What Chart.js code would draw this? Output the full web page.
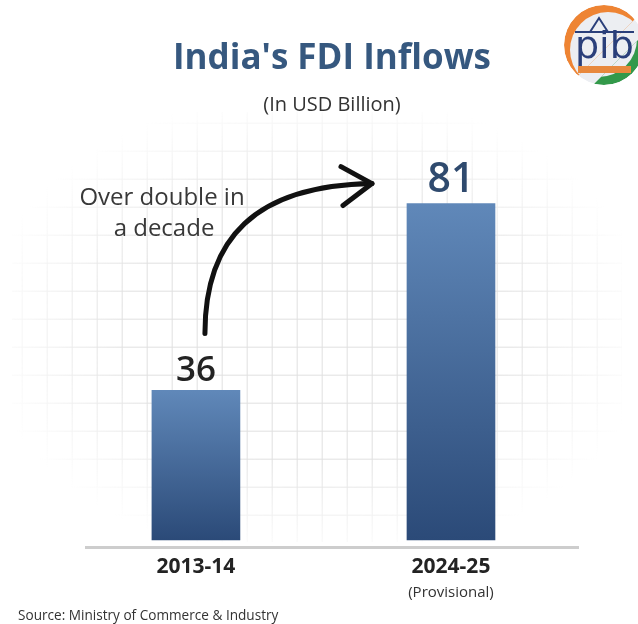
<!DOCTYPE html>
<html>
<head>
<meta charset="utf-8">
<script src="https://cdn.jsdelivr.net/npm/chart.js@4/dist/chart.umd.min.js"></script>
<style>
  html, body { margin: 0; padding: 0; background: #ffffff; }
  #wrap { position: relative; width: 638px; height: 624px; overflow: hidden; background: #ffffff; }
  /* faint graph-paper backdrop behind the bars, fading out at the edges */
  #paper {
    position: absolute; left: 12px; top: 112px; width: 610px; height: 430px;
    background-image:
      linear-gradient(to right, #e0e0e0 0, #e0e0e0 1.5px, transparent 1.5px),
      linear-gradient(to bottom, #e0e0e0 0, #e0e0e0 1.5px, transparent 1.5px);
    background-size: 25px 28px;
    background-position: 9.7px 10.7px;
    -webkit-mask-image: radial-gradient(ellipse at 50% 50%, #000 45%, rgba(0,0,0,0) 78%);
    mask-image: radial-gradient(ellipse at 50% 50%, #000 45%, rgba(0,0,0,0) 78%);
  }
  #chart { position: absolute; left: 0; top: 0; }
  #logo { position: absolute; left: 560px; top: 0; }
</style>
</head>
<body>
<div id="wrap">
  <div id="paper"></div>
  <canvas id="chart" width="638" height="624"></canvas>
  <svg id="logo" width="90" height="90" viewBox="0 0 90 90">
    <defs>
      <clipPath id="disc"><circle cx="44" cy="45" r="40"/></clipPath>
      <clipPath id="upperLeft"><polygon points="0,0 90,0 90,4 4,90 0,90"/></clipPath>
      <clipPath id="lowerRight"><polygon points="90,90 90,28 28,90"/></clipPath>
    </defs>
    <g clip-path="url(#disc)">
      <circle cx="44" cy="45" r="40" fill="#eceef2"/>
      <g clip-path="url(#upperLeft)">
        <circle cx="44" cy="45" r="40" fill="#ee8433"/>
        <circle cx="48" cy="50" r="38" fill="#eceef2"/>
      </g>
      <g clip-path="url(#lowerRight)">
        <circle cx="44" cy="45" r="40" fill="#33994a"/>
        <circle cx="39" cy="39" r="38" fill="#eceef2"/>
      </g>
    </g>
    <text x="15" y="58" font-family="DejaVu Sans, sans-serif" font-size="38" fill="#2a3f7a">pib</text>
    <line x1="15" y1="32" x2="74" y2="32" stroke="#2a3f7a" stroke-width="2"/>
    <path d="M 30 32 L 39 18 L 48 32" fill="none" stroke="#2a3f7a" stroke-width="2"/>
    <rect x="18" y="66" width="53" height="7" fill="#e8893d"/>
  </svg>
</div>
<script>
// FDI inflows, USD billion
const categories = ['2013-14', '2024-25'];
const fdiInflows = [36, 81];
const categoryNotes = ['', '(Provisional)'];
const valueColors = ['#232323', '#2f4a6e'];
const valueFontSizes = [35, 41];
const noteLines = ['Over double in', 'a decade'];
const sourceText = 'Source: Ministry of Commerce & Industry';

const FONT = '"Open Sans", Lato, sans-serif';

// value labels, arrow annotation, footnotes
const annotations = {
  id: 'annotations',
  afterDatasetsDraw(chart) {
    const ctx = chart.ctx;
    const bars = chart.getDatasetMeta(0).data;
    const xs = chart.scales.x;
    ctx.save();

    // values above the bars
    ctx.textAlign = 'center';
    ctx.textBaseline = 'alphabetic';
    bars.forEach((bar, i) => {
      ctx.font = `600 ${valueFontSizes[i]}px ${FONT}`;
      ctx.fillStyle = valueColors[i];
      ctx.fillText(String(fdiInflows[i]), bar.x, bar.y - (i === 0 ? 9 : 12));
    });

    // notes under the category labels
    ctx.font = `400 15px ${FONT}`;
    ctx.fillStyle = '#333333';
    ctx.textBaseline = 'middle';
    categoryNotes.forEach((note, i) => {
      if (note) ctx.fillText(note, xs.getPixelForValue(i), 593);
    });

    // "Over double in a decade"
    ctx.font = `400 24px ${FONT}`;
    ctx.fillStyle = '#383838';
    ctx.fillText(noteLines[0], 162, 198);
    ctx.fillText(noteLines[1], 164, 229);

    // curved arrow from the first value to the second
    const a = bars[0], b = bars[1];
    const sx = a.x + 9, sy = a.y - 57;
    const ex = b.x - 79, ey = b.y - 20;
    ctx.strokeStyle = '#111111';
    ctx.lineWidth = 5;
    ctx.lineCap = 'round';
    ctx.lineJoin = 'round';
    ctx.beginPath();
    ctx.moveTo(sx, sy);
    ctx.bezierCurveTo(sx, sy - 95, sx + 50, ey + 2, ex, ey);
    ctx.stroke();
    ctx.beginPath();
    ctx.moveTo(ex - 31, ey - 17);
    ctx.lineTo(ex, ey);
    ctx.lineTo(ex - 29, ey + 22);
    ctx.stroke();

    // source line
    ctx.textAlign = 'left';
    ctx.font = `400 13.6px ${FONT}`;
    ctx.fillStyle = '#333333';
    ctx.fillText(sourceText, 18, 616);

    ctx.restore();
  }
};

new Chart(document.getElementById('chart'), {
  type: 'bar',
  data: {
    datasets: [{
      data: fdiInflows.map((v, i) => ({ x: i, y: v })),
      barThickness: 88,
      borderWidth: 0,
      backgroundColor: (c) => {
        const chart = c.chart;
        if (!chart.chartArea || c.dataIndex === undefined) return '#3f6395';
        const ys = chart.scales.y;
        const top = ys.getPixelForValue(fdiInflows[c.dataIndex]);
        const bottom = ys.getPixelForValue(0);
        const g = chart.ctx.createLinearGradient(0, top, 0, bottom);
        g.addColorStop(0, '#6088b9');
        g.addColorStop(1, '#2b4a78');
        return g;
      }
    }]
  },
  options: {
    responsive: false,
    animation: false,
    devicePixelRatio: 1,
    layout: { padding: { left: 86, right: 60, top: 0, bottom: 0 } },
    plugins: {
      legend: { display: false },
      tooltip: { enabled: false },
      title: {
        display: true,
        text: "India's FDI Inflows",
        color: '#36587f',
        font: { family: FONT, size: 35, weight: '700' },
        padding: { top: 38, bottom: 0 }
      },
      subtitle: {
        display: true,
        text: '(In USD Billion)',
        color: '#333333',
        font: { family: FONT, size: 20, weight: '400' },
        padding: { top: 13, bottom: 16 }
      }
    },
    scales: {
      x: {
        type: 'linear',
        offset: false,
        min: -0.431,
        max: 1.498,
        afterBuildTicks: (s) => { s.ticks = categories.map((c, i) => ({ value: i })); },
        afterFit: (s) => { s.height = 77; },
        ticks: {
          callback: (v) => categories[v],
          color: '#232323',
          font: { family: FONT, size: 21, weight: '700' },
          padding: 7,
          autoSkip: false,
          maxRotation: 0
        },
        grid: { display: false, drawTicks: false },
        border: { display: true, color: '#cdcdcd', width: 3 }
      },
      y: {
        display: false,
        min: -1.7,
        max: 98
      }
    }
  },
  plugins: [annotations]
});
</script>
</body>
</html>
